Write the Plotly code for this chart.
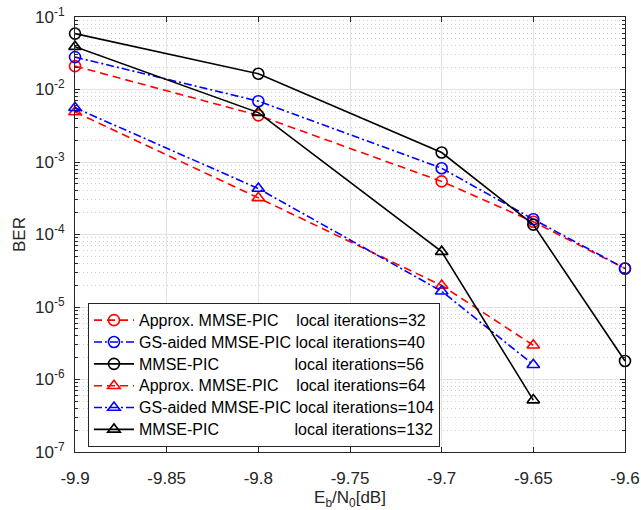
import plotly.graph_objects as go

# Eb/N0 grid in dB
ebn0 = [-9.9, -9.8, -9.7, -9.65, -9.6]
ebn0_tri = [-9.9, -9.8, -9.7, -9.65]
x_ticks = [-9.9, -9.85, -9.8, -9.75, -9.7, -9.65, -9.6]
x_tick_text = ["-9.9", "-9.85", "-9.8", "-9.75", "-9.7", "-9.65", "-9.6"]

# BER curves, circle markers (fewer local iterations)
ber_approx_32 = [0.021, 0.0044, 5.4e-4, 1.5e-4, 3.4e-5]
ber_gs_40 = [0.028, 0.0069, 8.2e-4, 1.62e-4, 3.4e-5]
ber_mmse_56 = [0.059, 0.0165, 0.00135, 1.37e-4, 1.8e-6]

# BER curves, triangle markers (more local iterations)
ber_approx_64 = [0.0049, 3.2e-4, 1.98e-5, 2.97e-6]
ber_gs_104 = [0.0056, 4.3e-4, 1.65e-5, 1.6e-6]
ber_mmse_132 = [0.039, 0.0048, 5.8e-5, 5.2e-7]

NB = "\u00a0"
labels = [
    "Approx. MMSE-PIC" + NB * 4 + "local iterations=32",
    "GS-aided MMSE-PIC" + NB + "local iterations=40",
    "MMSE-PIC" + NB * 17 + "local iterations=56",
    "Approx. MMSE-PIC" + NB * 4 + "local iterations=64",
    "GS-aided MMSE-PIC" + NB + "local iterations=104",
    "MMSE-PIC" + NB * 17 + "local iterations=132",
]
# slightly larger legend glyphs than the row pitch implies
names = ['<span style="font-size:16px">%s</span>' % s for s in labels]

RED, BLUE, BLACK = "#FF0000", "#0000FF", "#000000"
DASH = "8px,5px"
DASHDOT = "8px,3px,2px,3px"

series = [
    (ebn0, ber_approx_32, RED, DASH, "circle-open"),
    (ebn0, ber_gs_40, BLUE, DASHDOT, "circle-open"),
    (ebn0, ber_mmse_56, BLACK, "solid", "circle-open"),
    (ebn0_tri, ber_approx_64, RED, DASH, "triangle-up-open"),
    (ebn0_tri, ber_gs_104, BLUE, DASHDOT, "triangle-up-open"),
    (ebn0_tri, ber_mmse_132, BLACK, "solid", "triangle-up-open"),
]

fig = go.Figure()
for (xs, ys, col, dash, sym), nm in zip(series, names):
    fig.add_trace(go.Scatter(
        x=xs, y=ys, name=nm, mode="lines+markers", cliponaxis=False,
        line=dict(color=col, width=1.6, dash=dash),
        marker=dict(symbol=sym, size=11, color=col, line=dict(width=1.6, color=col)),
    ))

AX = "#262626"
FONT = "Liberation Sans, Arial, sans-serif"

decades = list(range(-7, 0))
major_vals = [10.0 ** e for e in decades]
major_text = ["10<sup>%d</sup>" % e for e in decades]
minor_vals = [k * 10.0 ** e for e in decades[:-1] for k in range(2, 10)]

fig.update_layout(
    width=641, height=510,
    margin=dict(l=75, r=16, t=17, b=58),
    paper_bgcolor="white", plot_bgcolor="white",
    font=dict(family=FONT, size=17, color=AX),
    showlegend=True,
    legend=dict(
        x=0.0236, y=0.342, xanchor="left", yanchor="top",
        bgcolor="white", bordercolor=AX, borderwidth=1,
        font=dict(family=FONT, size=14.5, color="black"),
        itemwidth=40, tracegroupgap=0,
    ),
    xaxis=dict(
        range=[-9.90001, -9.59999], automargin=False,
        tickmode="array", tickvals=x_ticks, ticktext=x_tick_text,
        ticks="inside", ticklen=5, tickcolor=AX,
        showline=True, linecolor=AX, linewidth=1, mirror="allticks",
        showgrid=True, gridcolor="#e3e3e3", gridwidth=1,
        zeroline=False, ticklabelstandoff=11,
        tickfont=dict(family=FONT, size=17, color=AX),
        title=dict(text="E<sub>b</sub>/N<sub>0</sub>[dB]", standoff=4,
                   font=dict(family=FONT, size=17, color=AX)),
    ),
    yaxis=dict(
        type="log", range=[-7, -1], automargin=False,
        tickmode="array", tickvals=major_vals, ticktext=major_text,
        ticks="inside", ticklen=5, tickcolor=AX,
        showline=True, linecolor=AX, linewidth=1, mirror="allticks",
        showgrid=True, gridcolor="#e3e3e3", gridwidth=1,
        zeroline=False, ticklabelstandoff=6,
        tickfont=dict(family=FONT, size=17, color=AX),
        minor=dict(tickmode="array", tickvals=minor_vals, ticks="inside",
                   ticklen=3, tickcolor=AX, showgrid=True,
                   gridcolor="#cfcfcf", griddash="1px,3px", gridwidth=1),
        title=dict(text="BER", standoff=5,
                   font=dict(family=FONT, size=17, color=AX)),
    ),
)

fig.write_html("out.html")
